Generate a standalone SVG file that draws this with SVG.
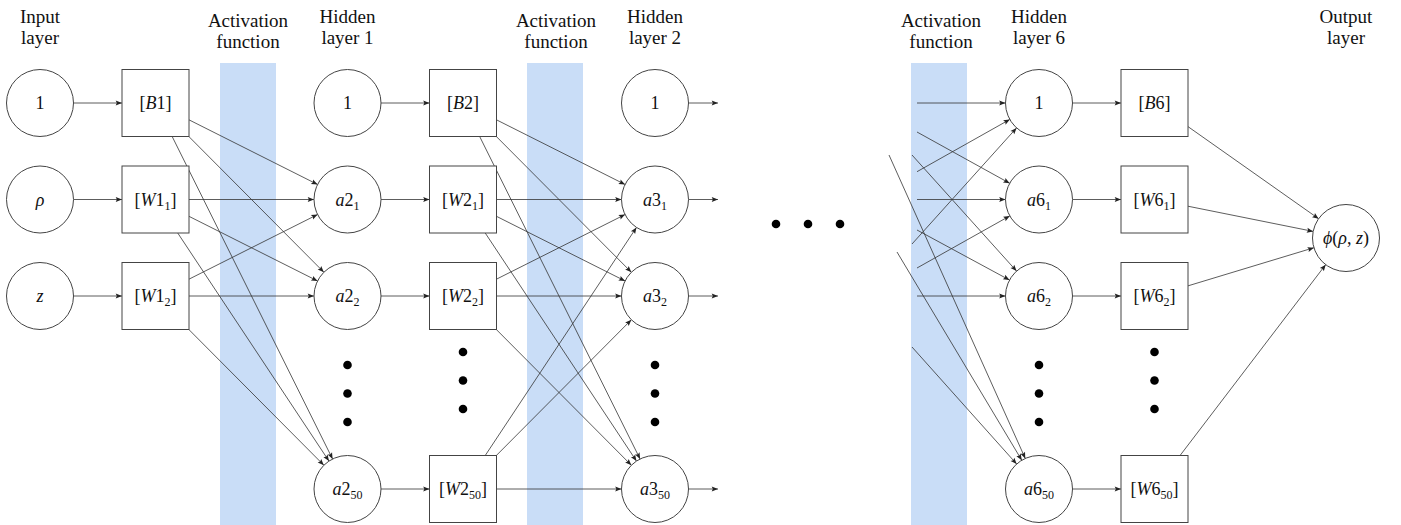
<svg xmlns="http://www.w3.org/2000/svg" width="1401" height="525" viewBox="0 0 1401 525">
<style>
.band{fill:#c9ddf7}
.hd{font-size:19px;fill:#111;text-anchor:middle}
.m{font-size:18px;fill:#111;text-anchor:middle}
.i{font-style:italic}
.sub{font-size:12px}
.nd{fill:#fff;stroke:#444;stroke-width:1}
.c line{stroke:#333;stroke-width:0.8;fill:none}
.c line.a{marker-end:url(#ah)}
.dot{fill:#000}
</style>
<defs>
<marker id="ah" markerUnits="userSpaceOnUse" markerWidth="8" markerHeight="8" viewBox="-6 -3 7 6" refX="0" refY="0" orient="auto">
<path d="M-5.5,-2.2 L0,0 L-5.5,2.2 L-4.5,0 z" fill="#222"/>
</marker>
</defs>
<rect width="1401" height="525" fill="#fff"/>
<g id="bands">
<rect class="band" x="220" y="63" width="56" height="462"/>
<rect class="band" x="527" y="63" width="56" height="462"/>
<rect class="band" x="911" y="63" width="56" height="462"/>
</g>
<g id="headers" font-family="Liberation Serif, Times New Roman, DejaVu Serif, serif">
<text class="hd" x="40" y="23">Input</text><text class="hd" x="40" y="43.5">layer</text>
<text class="hd" x="248" y="26.5">Activation</text><text class="hd" x="248" y="47.5">function</text>
<text class="hd" x="347.5" y="23">Hidden</text><text class="hd" x="347.5" y="43.5">layer 1</text>
<text class="hd" x="556" y="26.5">Activation</text><text class="hd" x="556" y="47.5">function</text>
<text class="hd" x="655" y="23">Hidden</text><text class="hd" x="655" y="43.5">layer 2</text>
<text class="hd" x="941" y="26.5">Activation</text><text class="hd" x="941" y="47.5">function</text>
<text class="hd" x="1039" y="23">Hidden</text><text class="hd" x="1039" y="43.5">layer 6</text>
<text class="hd" x="1346" y="23">Output</text><text class="hd" x="1346" y="43.5">layer</text>
</g>
<g id="connectors" class="c">
<line class="a" x1="73.5" y1="103" x2="122" y2="103"/>
<line class="a" x1="73.5" y1="199.5" x2="122" y2="199.5"/>
<line class="a" x1="73.5" y1="296" x2="122" y2="296"/>
<line class="a" x1="189" y1="119.84" x2="317.57" y2="184.46"/>
<line class="a" x1="188.83" y1="136.5" x2="323.87" y2="272.25"/>
<line class="a" x1="172.16" y1="136.5" x2="332.58" y2="459.01"/>
<line class="a" x1="189" y1="199.5" x2="314" y2="199.5"/>
<line class="a" x1="189" y1="216.34" x2="317.57" y2="280.96"/>
<line class="a" x1="177.72" y1="233" x2="328.98" y2="461.08"/>
<line class="a" x1="189" y1="279.16" x2="317.57" y2="214.54"/>
<line class="a" x1="189" y1="296" x2="314" y2="296"/>
<line class="a" x1="188.83" y1="329.5" x2="323.87" y2="465.25"/>
<line class="a" x1="381" y1="103" x2="429.5" y2="103"/>
<line class="a" x1="381" y1="199.5" x2="429.5" y2="199.5"/>
<line class="a" x1="381" y1="296" x2="429.5" y2="296"/>
<line class="a" x1="381" y1="489" x2="429.5" y2="489"/>
<line class="a" x1="496.5" y1="119.84" x2="625.07" y2="184.46"/>
<line class="a" x1="496.33" y1="136.5" x2="631.37" y2="272.25"/>
<line class="a" x1="479.66" y1="136.5" x2="640.08" y2="459.01"/>
<line class="a" x1="496.5" y1="199.5" x2="621.5" y2="199.5"/>
<line class="a" x1="496.5" y1="216.34" x2="625.07" y2="280.96"/>
<line class="a" x1="485.22" y1="233" x2="636.48" y2="461.08"/>
<line class="a" x1="496.5" y1="279.16" x2="625.07" y2="214.54"/>
<line class="a" x1="496.5" y1="296" x2="621.5" y2="296"/>
<line class="a" x1="496.33" y1="329.5" x2="631.37" y2="465.25"/>
<line class="a" x1="485.22" y1="455.5" x2="636.48" y2="227.42"/>
<line class="a" x1="496.33" y1="455.5" x2="631.37" y2="319.75"/>
<line class="a" x1="496.5" y1="489" x2="621.5" y2="489"/>
<line class="a" x1="688.5" y1="103" x2="718" y2="103"/>
<line class="a" x1="688.5" y1="199.5" x2="718" y2="199.5"/>
<line class="a" x1="688.5" y1="296" x2="718" y2="296"/>
<line class="a" x1="688.5" y1="489" x2="718" y2="489"/>
<line class="a" x1="917" y1="103" x2="1005.5" y2="103"/>
<line class="a" x1="917" y1="171.7" x2="1009.81" y2="119.44"/>
<line class="a" x1="912" y1="244" x2="1016.58" y2="127.89"/>
<line class="a" x1="917" y1="132" x2="1009.69" y2="183.28"/>
<line class="a" x1="917" y1="199.5" x2="1005.5" y2="199.5"/>
<line class="a" x1="917" y1="268" x2="1009.79" y2="215.9"/>
<line class="a" x1="912" y1="155" x2="1016.58" y2="271.11"/>
<line class="a" x1="917" y1="230" x2="1009.54" y2="280.06"/>
<line class="a" x1="917" y1="296" x2="1005.5" y2="296"/>
<line class="a" x1="889" y1="155" x2="1025.28" y2="458.44"/>
<line class="a" x1="897" y1="252" x2="1021.78" y2="460.26"/>
<line class="a" x1="912" y1="347" x2="1016.67" y2="464.03"/>
<line class="a" x1="1072.5" y1="103" x2="1121" y2="103"/>
<line class="a" x1="1072.5" y1="199.5" x2="1121" y2="199.5"/>
<line class="a" x1="1072.5" y1="296" x2="1121" y2="296"/>
<line class="a" x1="1072.5" y1="489" x2="1121" y2="489"/>
<line class="a" x1="1188" y1="126.62" x2="1318.62" y2="218.7"/>
<line class="a" x1="1188" y1="206.23" x2="1313.16" y2="231.4"/>
<line class="a" x1="1188" y1="285.85" x2="1313.94" y2="247.71"/>
<line class="a" x1="1180.06" y1="455.5" x2="1325.68" y2="264.63"/>
</g>
<g id="nodes" font-family="Liberation Serif, Times New Roman, DejaVu Serif, serif">
<g id="in-1"><circle class="nd" cx="40" cy="103" r="33.5"/><text class="m" x="40" y="109">1</text></g>
<g id="in-rho"><circle class="nd" cx="40" cy="199.5" r="33.5"/><text class="m" x="40" y="205.5"><tspan class="i">ρ</tspan></text></g>
<g id="in-z"><circle class="nd" cx="40" cy="296" r="33.5"/><text class="m" x="40" y="302"><tspan class="i">z</tspan></text></g>
<g id="B1"><rect class="nd" x="122" y="69.5" width="67" height="67"/><text class="m" x="155.5" y="109">[<tspan class="i">B</tspan>1]</text></g>
<g id="W1_1"><rect class="nd" x="122" y="166" width="67" height="67"/><text class="m" x="155.5" y="205.5">[<tspan class="i">W</tspan>1<tspan class="sub" dy="4">1</tspan><tspan dy="-4">]</tspan></text></g>
<g id="W1_2"><rect class="nd" x="122" y="262.5" width="67" height="67"/><text class="m" x="155.5" y="302">[<tspan class="i">W</tspan>1<tspan class="sub" dy="4">2</tspan><tspan dy="-4">]</tspan></text></g>
<g id="h1-1"><circle class="nd" cx="347.5" cy="103" r="33.5"/><text class="m" x="347.5" y="109">1</text></g>
<g id="a2_1"><circle class="nd" cx="347.5" cy="199.5" r="33.5"/><text class="m" x="347.5" y="205.5"><tspan class="i">a</tspan>2<tspan class="sub" dy="4">1</tspan></text></g>
<g id="a2_2"><circle class="nd" cx="347.5" cy="296" r="33.5"/><text class="m" x="347.5" y="302"><tspan class="i">a</tspan>2<tspan class="sub" dy="4">2</tspan></text></g>
<g id="a2_50"><circle class="nd" cx="347.5" cy="489" r="33.5"/><text class="m" x="347.5" y="495"><tspan class="i">a</tspan>2<tspan class="sub" dy="4">50</tspan></text></g>
<g id="B2"><rect class="nd" x="429.5" y="69.5" width="67" height="67"/><text class="m" x="463" y="109">[<tspan class="i">B</tspan>2]</text></g>
<g id="W2_1"><rect class="nd" x="429.5" y="166" width="67" height="67"/><text class="m" x="463" y="205.5">[<tspan class="i">W</tspan>2<tspan class="sub" dy="4">1</tspan><tspan dy="-4">]</tspan></text></g>
<g id="W2_2"><rect class="nd" x="429.5" y="262.5" width="67" height="67"/><text class="m" x="463" y="302">[<tspan class="i">W</tspan>2<tspan class="sub" dy="4">2</tspan><tspan dy="-4">]</tspan></text></g>
<g id="W2_50"><rect class="nd" x="429.5" y="455.5" width="67" height="67"/><text class="m" x="463" y="495">[<tspan class="i">W</tspan>2<tspan class="sub" dy="4">50</tspan><tspan dy="-4">]</tspan></text></g>
<g id="h2-1"><circle class="nd" cx="655" cy="103" r="33.5"/><text class="m" x="655" y="109">1</text></g>
<g id="a3_1"><circle class="nd" cx="655" cy="199.5" r="33.5"/><text class="m" x="655" y="205.5"><tspan class="i">a</tspan>3<tspan class="sub" dy="4">1</tspan></text></g>
<g id="a3_2"><circle class="nd" cx="655" cy="296" r="33.5"/><text class="m" x="655" y="302"><tspan class="i">a</tspan>3<tspan class="sub" dy="4">2</tspan></text></g>
<g id="a3_50"><circle class="nd" cx="655" cy="489" r="33.5"/><text class="m" x="655" y="495"><tspan class="i">a</tspan>3<tspan class="sub" dy="4">50</tspan></text></g>
<g id="h6-1"><circle class="nd" cx="1039" cy="103" r="33.5"/><text class="m" x="1039" y="109">1</text></g>
<g id="a6_1"><circle class="nd" cx="1039" cy="199.5" r="33.5"/><text class="m" x="1039" y="205.5"><tspan class="i">a</tspan>6<tspan class="sub" dy="4">1</tspan></text></g>
<g id="a6_2"><circle class="nd" cx="1039" cy="296" r="33.5"/><text class="m" x="1039" y="302"><tspan class="i">a</tspan>6<tspan class="sub" dy="4">2</tspan></text></g>
<g id="a6_50"><circle class="nd" cx="1039" cy="489" r="33.5"/><text class="m" x="1039" y="495"><tspan class="i">a</tspan>6<tspan class="sub" dy="4">50</tspan></text></g>
<g id="B6"><rect class="nd" x="1121" y="69.5" width="67" height="67"/><text class="m" x="1154.5" y="109">[<tspan class="i">B</tspan>6]</text></g>
<g id="W6_1"><rect class="nd" x="1121" y="166" width="67" height="67"/><text class="m" x="1154.5" y="205.5">[<tspan class="i">W</tspan>6<tspan class="sub" dy="4">1</tspan><tspan dy="-4">]</tspan></text></g>
<g id="W6_2"><rect class="nd" x="1121" y="262.5" width="67" height="67"/><text class="m" x="1154.5" y="302">[<tspan class="i">W</tspan>6<tspan class="sub" dy="4">2</tspan><tspan dy="-4">]</tspan></text></g>
<g id="W6_50"><rect class="nd" x="1121" y="455.5" width="67" height="67"/><text class="m" x="1154.5" y="495">[<tspan class="i">W</tspan>6<tspan class="sub" dy="4">50</tspan><tspan dy="-4">]</tspan></text></g>
<g id="output"><circle class="nd" cx="1346" cy="238" r="33.5"/><text class="m" x="1346" y="244"><tspan class="i">ϕ</tspan>(<tspan class="i">ρ</tspan>, <tspan class="i">z</tspan>)</text></g>
</g>
<g id="ellipses">
<circle class="dot" cx="347.5" cy="365" r="4.3"/><circle class="dot" cx="347.5" cy="393.5" r="4.3"/><circle class="dot" cx="347.5" cy="422" r="4.3"/>
<circle class="dot" cx="463" cy="352" r="4.3"/><circle class="dot" cx="463" cy="380.5" r="4.3"/><circle class="dot" cx="463" cy="409" r="4.3"/>
<circle class="dot" cx="655" cy="365" r="4.3"/><circle class="dot" cx="655" cy="393.5" r="4.3"/><circle class="dot" cx="655" cy="422" r="4.3"/>
<circle class="dot" cx="1039" cy="365" r="4.3"/><circle class="dot" cx="1039" cy="393.5" r="4.3"/><circle class="dot" cx="1039" cy="422" r="4.3"/>
<circle class="dot" cx="1154.5" cy="352" r="4.3"/><circle class="dot" cx="1154.5" cy="380.5" r="4.3"/><circle class="dot" cx="1154.5" cy="409" r="4.3"/>
<circle class="dot" cx="776" cy="224" r="4.3"/><circle class="dot" cx="808" cy="224" r="4.3"/><circle class="dot" cx="840" cy="224" r="4.3"/>
</g>
</svg>
